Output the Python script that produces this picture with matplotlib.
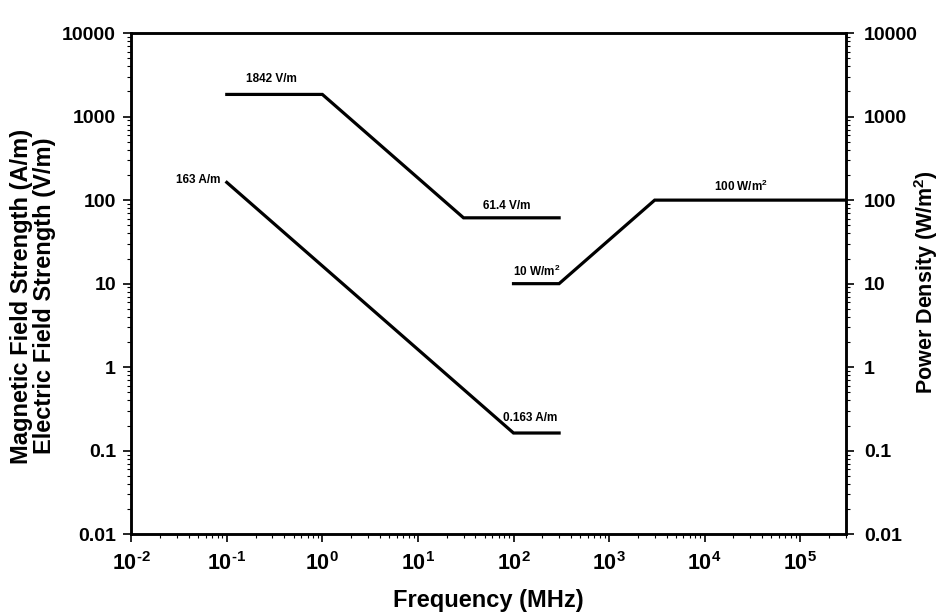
import matplotlib
matplotlib.use("Agg")
import matplotlib.pyplot as plt
from matplotlib.ticker import LogLocator, FixedLocator, NullFormatter

plt.rcParams['font.family'] = ['Liberation Sans', 'DejaVu Sans']
plt.rcParams['mathtext.fontset'] = 'custom'
plt.rcParams['mathtext.rm'] = 'Liberation Sans:bold'
plt.rcParams['mathtext.it'] = 'Liberation Sans:bold'
plt.rcParams['mathtext.bf'] = 'Liberation Sans:bold'

# Data
e_freq = [0.1, 1, 30, 300]
e_vals = [1842, 1842, 61.4, 61.4]
h_freq = [0.1, 100, 300]
h_vals = [163, 0.163, 0.163]
s_freq = [100, 300, 3000, 300000]
s_vals = [10, 10, 100, 100]

annotations = [
    ("1842 V/m", 0.29, 2800, 'center'),
    ("163 A/m", 0.086, 172, 'right'),
    ("61.4 V/m", 86, 84, 'center'),
    ("0.163 A/m", 150, 0.245, 'center'),
    ("10 W/m$^2$", 175, 14, 'center'),
    ("100 W/m$^2$", 24000, 148, 'center'),
]

y_ticks = [0.01, 0.1, 1, 10, 100, 1000, 10000]
y_labels = ["0.01", "0.1", "1", "10", "100", "1000", "10000"]
x_ticks = [1e-2, 1e-1, 1e0, 1e1, 1e2, 1e3, 1e4, 1e5]
x_labels = ["$10^{\\text{-2}}$", "$10^{\\text{-1}}$", "$10^{0}$", "$10^{1}$",
            "$10^{2}$", "$10^{3}$", "$10^{4}$", "$10^{5}$"]

W, H = 944, 612
fig = plt.figure(figsize=(W / 100, H / 100), dpi=100)
ax = fig.add_axes([0.139, 0.127, 0.757, 0.819])

lw = 2.3
ax.plot(e_freq, e_vals, color='black', lw=lw, solid_joinstyle='miter')
ax.plot(h_freq, h_vals, color='black', lw=lw, solid_joinstyle='miter')
ax.plot(s_freq, s_vals, color='black', lw=lw, solid_joinstyle='miter')

ax.set_xscale('log')
ax.set_yscale('log')
ax.set_xlim(1e-2, 3e5)
ax.set_ylim(0.01, 10000)

for txt, x, y, ha in annotations:
    ax.text(x, y, txt, fontsize=8.5, fontweight='bold', ha=ha, va='center')

ax.xaxis.set_major_locator(FixedLocator(x_ticks))
ax.set_xticklabels(x_labels)
ax.xaxis.set_minor_locator(LogLocator(base=10, subs=range(2, 10), numticks=20))
ax.xaxis.set_minor_formatter(NullFormatter())
ax.yaxis.set_major_locator(FixedLocator(y_ticks))
ax.set_yticklabels(y_labels)
ax.yaxis.set_minor_locator(LogLocator(base=10, subs=range(2, 10), numticks=20))
ax.yaxis.set_minor_formatter(NullFormatter())

for sp in ax.spines.values():
    sp.set_linewidth(1.8)

ax.tick_params(which='major', direction='out', length=6, width=1.2, labelsize=14, pad=5)
ax.tick_params(which='minor', direction='out', length=3, width=0.8)
for lab in ax.get_xticklabels() + ax.get_yticklabels():
    lab.set_fontweight('bold')
ax.tick_params(axis='x', labelsize=15.5, pad=7)

ax2 = ax.twinx()
ax2.set_yscale('log')
ax2.set_ylim(0.01, 10000)
ax2.yaxis.set_major_locator(FixedLocator(y_ticks))
ax2.set_yticklabels(y_labels)
ax2.yaxis.set_minor_locator(LogLocator(base=10, subs=range(2, 10), numticks=20))
ax2.yaxis.set_minor_formatter(NullFormatter())
ax2.tick_params(which='major', direction='out', length=6, width=1.2, labelsize=14, pad=7)
ax2.tick_params(which='minor', direction='out', length=3, width=0.8)
for lab in ax2.get_yticklabels():
    lab.set_fontweight('bold')
for sp in ax2.spines.values():
    sp.set_linewidth(1.8)

fig.text(488 / W, 1 - 600 / H, "Frequency (MHz)", fontsize=17, fontweight='bold',
         ha='center', va='center')
fig.text(33 / W, 1 - 296 / H, "Magnetic Field Strength (A/m)\nElectric Field Strength (V/m)",
         fontsize=17, fontweight='bold', ha='center', va='center', rotation=90,
         linespacing=0.95, multialignment='center')
fig.text(926 / W, 1 - 282 / H, "Power Density (W/m$^2$)", fontsize=15.5, fontweight='bold',
         ha='center', va='center', rotation=90)

fig.savefig("out.png", dpi=100)
